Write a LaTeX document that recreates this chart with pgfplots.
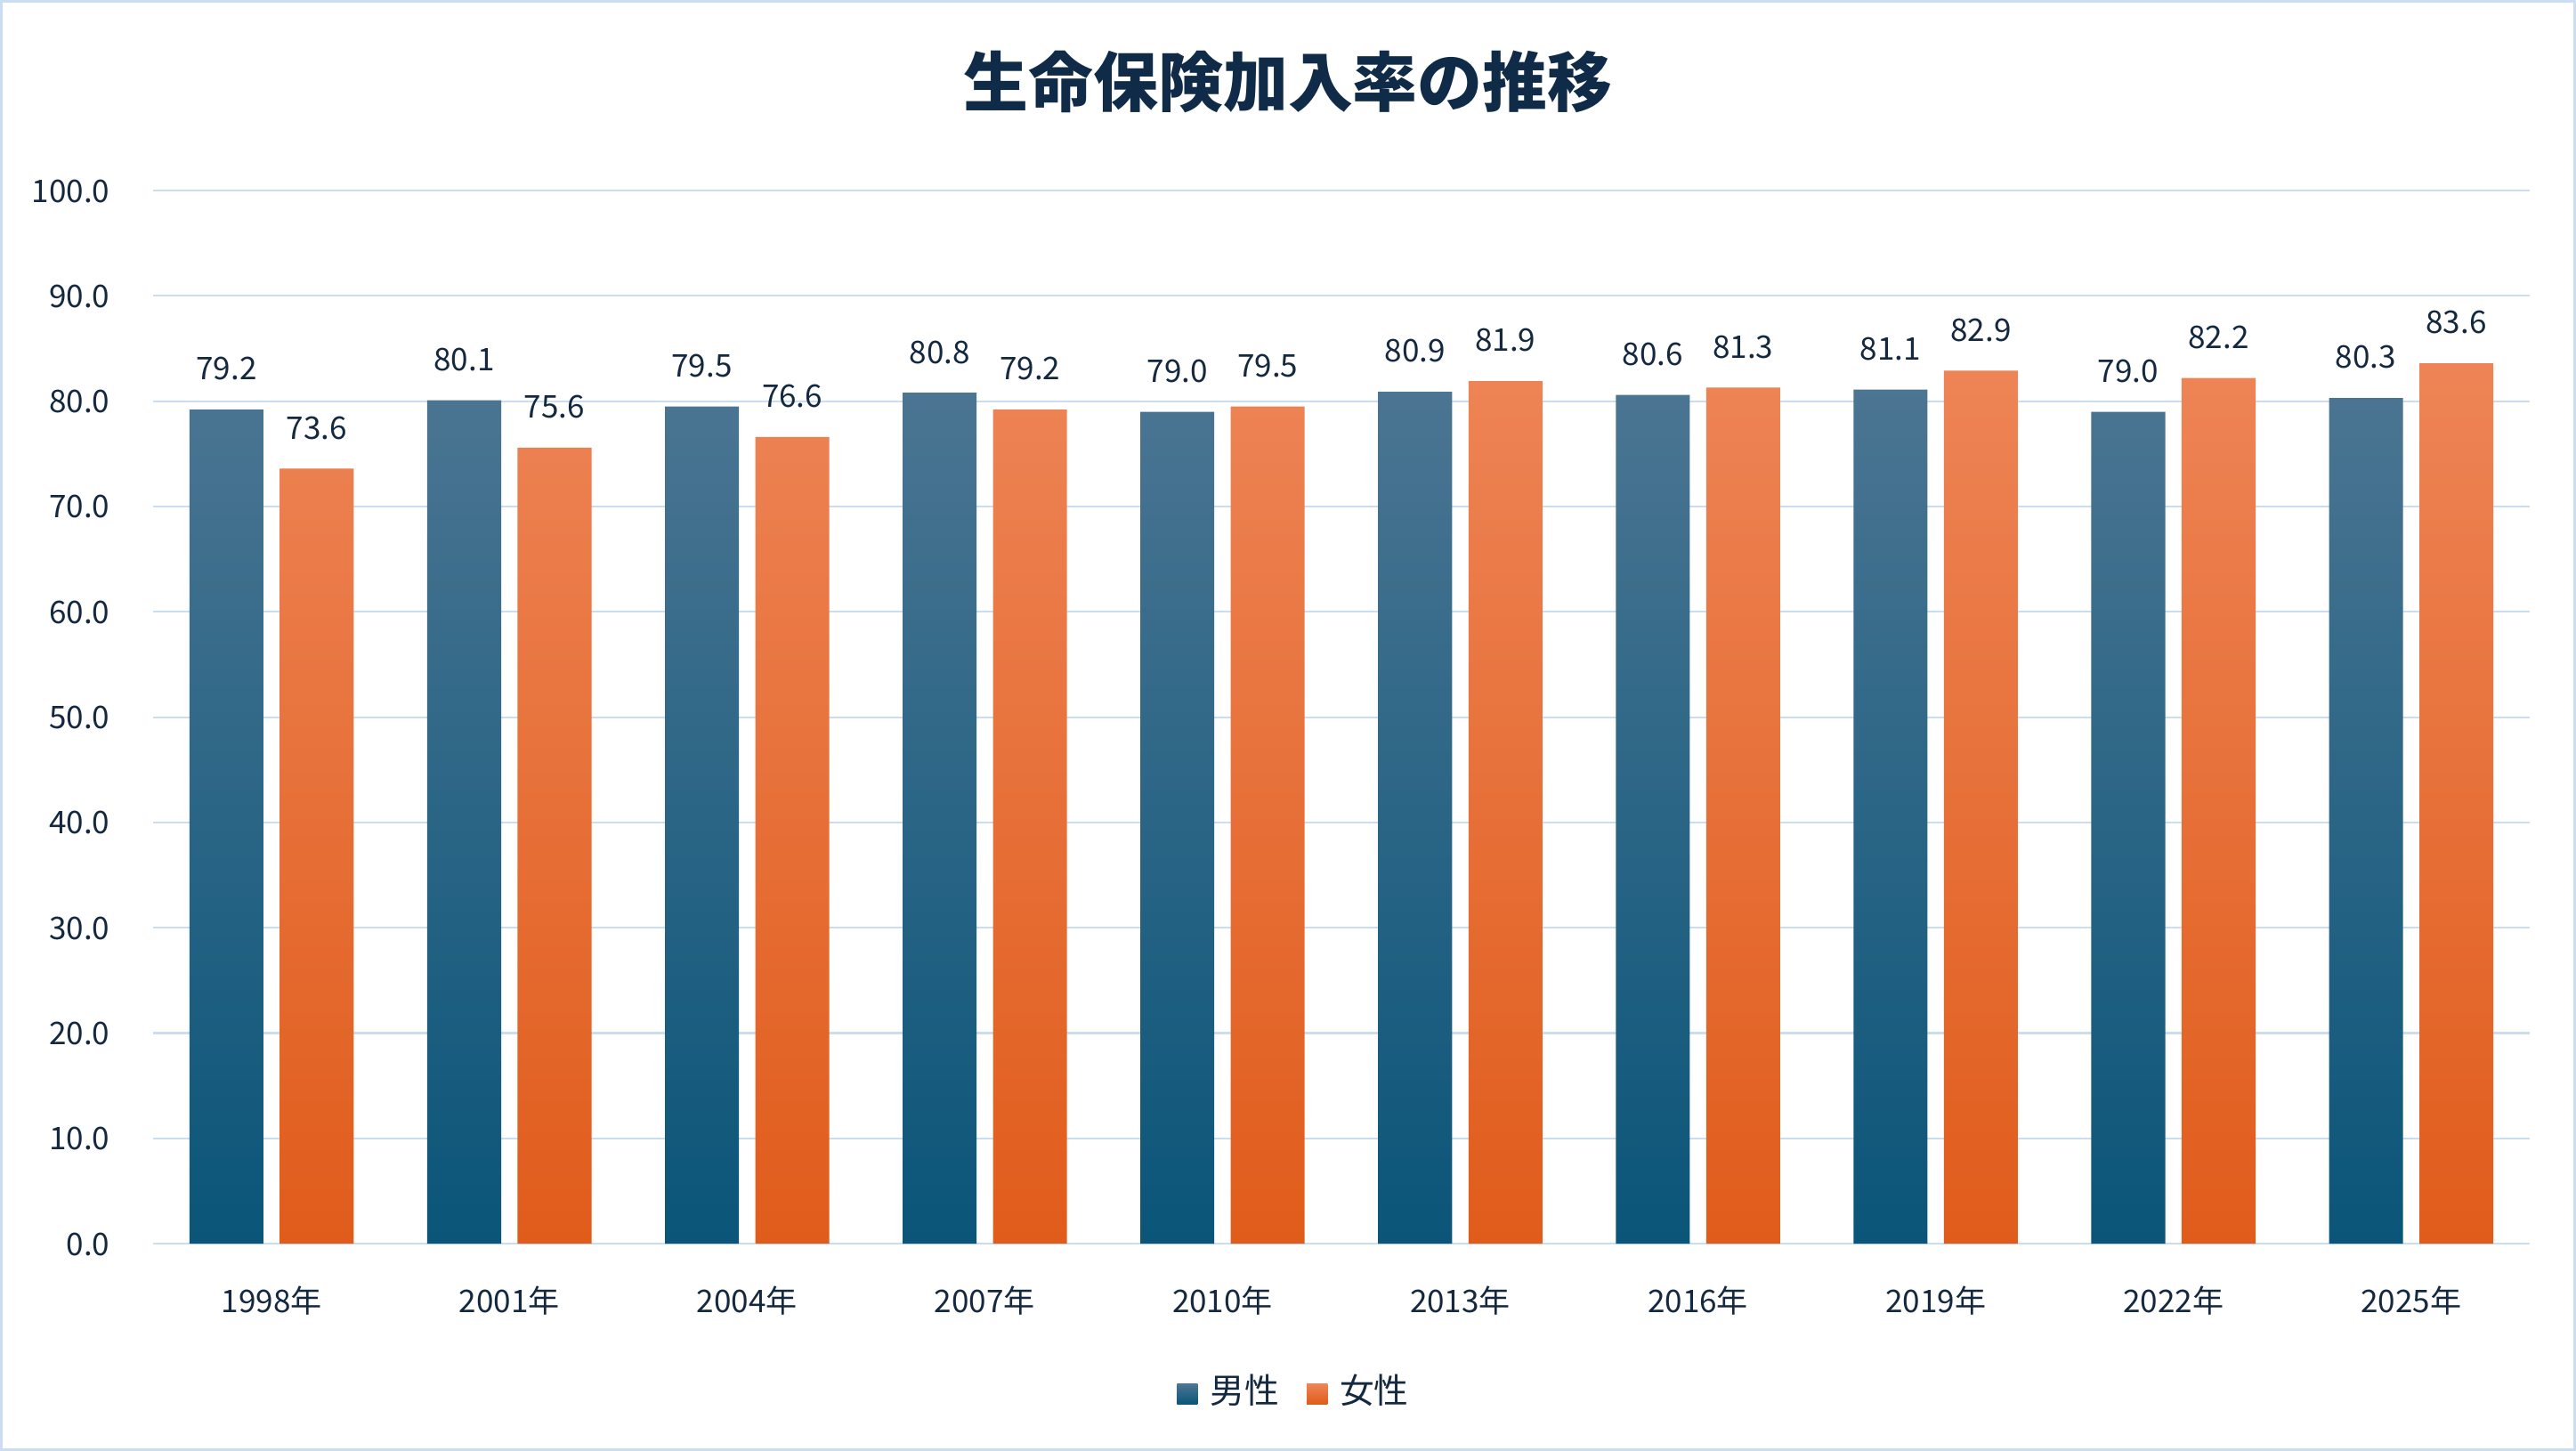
\documentclass[border=0pt]{standalone}
\usepackage{fontspec}
\setmainfont{Noto Sans CJK JP}
\usepackage{pgfplots}
\pgfplotsset{compat=1.18}
\definecolor{txt}{HTML}{14293F}
\definecolor{titc}{HTML}{0F2B47}
\definecolor{gridc}{HTML}{CADDF1}
\definecolor{mt}{HTML}{4B7592}
\definecolor{mb}{HTML}{0A5579}
\definecolor{ft}{HTML}{EE8456}
\definecolor{fb}{HTML}{E05C1B}
\begin{document}
\begin{tikzpicture}[x=1pt,y=1pt]
\useasboundingbox (0,0) rectangle (1568,883);
\fill[white] (0,0) rectangle (1568,883);
\draw[gridc, line width=1.6pt] (0.8,0.8) rectangle (1567.2,882.2);
\node[font=\fontsize{39.5}{44}\selectfont\bfseries, text=titc] at (784,833) {生命保険加入率の推移};
\begin{axis}[
  at={(93pt,126pt)}, anchor=south west, scale only axis,
  width=1447pt, height=641pt,
  xmin=-0.5, xmax=9.5, ymin=0, ymax=100,
  enlargelimits=false,
  ytick={0,10,...,100},
  xtick={0,...,9},
  xticklabels={1998年,2001年,2004年,2007年,2010年,2013年,2016年,2019年,2022年,2025年},
  ybar=10pt, bar width=45pt,
  axis line style={draw=none},
  major tick length=0pt,
  ymajorgrids, grid style={gridc, line width=1.2pt},
  tick label style={font=\fontsize{19}{22}\selectfont, text=txt},
  /pgf/number format/assume math mode=true,
  /pgf/number format/fixed,
  /pgf/number format/fixed zerofill,
  /pgf/number format/precision=1,
  yticklabel style={anchor=base east, inner sep=0pt, xshift=-26pt, yshift=-7pt},
  xticklabel style={anchor=base, inner sep=0pt, yshift=-42pt},
  nodes near coords,
  every node near coord/.append style={anchor=base, inner sep=0pt, yshift=18pt, font=\fontsize{19}{22}\selectfont, text=txt},
  legend columns=2,
  legend style={at={(0.4803,-0.1388)}, anchor=center, draw=none, fill=none, font=\fontsize{21}{24}\selectfont, text=txt,
    /tikz/every even column/.append style={column sep=15pt}},
]
\addplot[draw=none, top color=mt, bottom color=mb,
  legend image code/.code={\shade[top color=mt,bottom color=mb] (0pt,-8.5pt) rectangle (12.5pt,3.5pt);\path (18pt,0pt);}]
  coordinates {(0,79.2) (1,80.1) (2,79.5) (3,80.8) (4,79.0) (5,80.9) (6,80.6) (7,81.1) (8,79.0) (9,80.3)};
\addlegendentry{男性}
\addplot[draw=none, top color=ft, bottom color=fb,
  legend image code/.code={\shade[top color=ft,bottom color=fb] (0pt,-8.5pt) rectangle (12.5pt,3.5pt);\path (18pt,0pt);}]
  coordinates {(0,73.6) (1,75.6) (2,76.6) (3,79.2) (4,79.5) (5,81.9) (6,81.3) (7,82.9) (8,82.2) (9,83.6)};
\addlegendentry{女性}
\end{axis}
\end{tikzpicture}
\end{document}
